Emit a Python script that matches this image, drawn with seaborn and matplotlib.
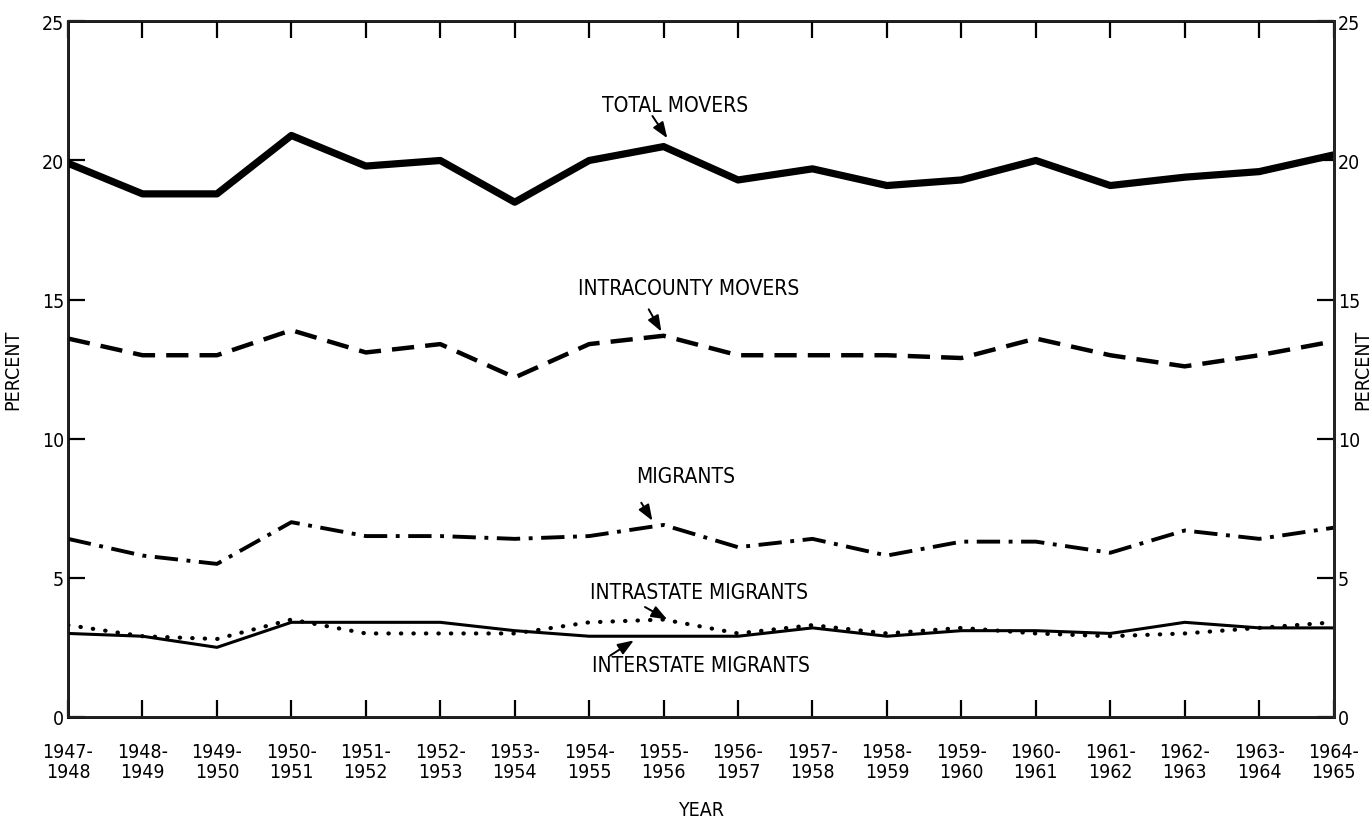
import numpy as np
import pandas as pd
import seaborn as sns
import matplotlib.pyplot as plt

periods = ['1947-\n1948', '1948-\n1949', '1949-\n1950', '1950-\n1951', '1951-\n1952',
           '1952-\n1953', '1953-\n1954', '1954-\n1955', '1955-\n1956', '1956-\n1957',
           '1957-\n1958', '1958-\n1959', '1959-\n1960', '1960-\n1961', '1961-\n1962',
           '1962-\n1963', '1963-\n1964', '1964-\n1965']

total_movers = [19.9, 18.8, 18.8, 20.9, 19.8, 20.0, 18.5, 20.0, 20.5,
                19.3, 19.7, 19.1, 19.3, 20.0, 19.1, 19.4, 19.6, 20.2]
intracounty = [13.6, 13.0, 13.0, 13.9, 13.1, 13.4, 12.2, 13.4, 13.7,
               13.0, 13.0, 13.0, 12.9, 13.6, 13.0, 12.6, 13.0, 13.5]
migrants = [6.4, 5.8, 5.5, 7.0, 6.5, 6.5, 6.4, 6.5, 6.9,
            6.1, 6.4, 5.8, 6.3, 6.3, 5.9, 6.7, 6.4, 6.8]
intrastate = [3.3, 2.9, 2.8, 3.5, 3.0, 3.0, 3.0, 3.4, 3.5,
              3.0, 3.3, 3.0, 3.2, 3.0, 2.9, 3.0, 3.2, 3.4]
interstate = [3.0, 2.9, 2.5, 3.4, 3.4, 3.4, 3.1, 2.9, 2.9,
              2.9, 3.2, 2.9, 3.1, 3.1, 3.0, 3.4, 3.2, 3.2]

sns.set_theme(style="ticks")
plt.rcParams['font.family'] = ['Liberation Sans Narrow', 'DejaVu Sans']
plt.rcParams['font.stretch'] = 'condensed'
plt.rcParams['text.color'] = 'black'
plt.rcParams['axes.labelcolor'] = 'black'
plt.rcParams['xtick.color'] = 'black'
plt.rcParams['ytick.color'] = 'black'

df = pd.DataFrame({
    'idx': np.arange(len(periods)),
    'total': total_movers,
    'intracounty': intracounty,
    'migrants': migrants,
    'intrastate': intrastate,
    'interstate': interstate,
})

fig = plt.figure(figsize=(13.72, 8.29), dpi=100)
ax = fig.add_axes([0.0496, 0.134, 0.9224, 0.839])

sns.lineplot(data=df, x='idx', y='total', ax=ax, color='black', lw=5.2)
sns.lineplot(data=df, x='idx', y='intracounty', ax=ax, color='black', lw=3.2,
             linestyle=(0, (5, 2.5)))
sns.lineplot(data=df, x='idx', y='migrants', ax=ax, color='black', lw=2.8,
             linestyle=(0, (6, 2.2, 1, 2.2)))
sns.lineplot(data=df, x='idx', y='intrastate', ax=ax, color='black', lw=3.0,
             linestyle=(0, (0.1, 2.9)), dash_capstyle='round')
sns.lineplot(data=df, x='idx', y='interstate', ax=ax, color='black', lw=2.2)

ax.set_xlim(0, len(periods) - 1)
ax.set_ylim(0, 25)
ax.set_xticks(df['idx'])
ax.set_xticklabels(periods, fontsize=14, linespacing=1.05)
ax.set_yticks([0, 5, 10, 15, 20, 25])
ax.set_yticklabels(['0', '5', '10', '15', '20', '25'], fontsize=14)
ax.tick_params(axis='both', direction='in', length=12, width=1.6, top=True)
ax.tick_params(axis='x', pad=18)
ax.tick_params(axis='y', pad=3)
for s in ax.spines.values():
    s.set_linewidth(2)
    s.set_color('black')
ax.set_xlabel('YEAR', fontsize=14, labelpad=14)
ax.set_ylabel('PERCENT', fontsize=14)
ax.yaxis.set_label_coords(-0.036, 0.5)

ax2 = ax.twinx()
ax2.set_ylim(0, 25)
ax2.set_yticks([0, 5, 10, 15, 20, 25])
ax2.set_yticklabels(['0', '5', '10', '15', '20', '25'], fontsize=14)
ax2.tick_params(axis='y', direction='in', length=12, width=1.6, pad=3)
ax2.set_ylabel('PERCENT', fontsize=14, rotation=90)
ax2.yaxis.set_label_coords(1.0155, 0.5)
ax2.spines['right'].set_linewidth(2)

arrow = dict(arrowstyle='-|>,head_length=0.8,head_width=0.3', color='black', lw=1.4,
             shrinkA=0, shrinkB=0)
labels = [
    ('TOTAL MOVERS', (8.15, 22.0), (7.85, 21.6), (8.05, 20.8)),
    ('INTRACOUNTY MOVERS', (8.33, 15.4), (7.8, 14.65), (7.97, 13.85)),
    ('MIGRANTS', (8.3, 8.65), (7.7, 7.7), (7.85, 7.05)),
    ('INTRASTATE MIGRANTS', (8.47, 4.5), (7.75, 3.95), (8.05, 3.5)),
    ('INTERSTATE MIGRANTS', (8.5, 1.85), (7.28, 2.2), (7.6, 2.75)),
]
for text, tpos, tail, tip in labels:
    ax.text(tpos[0], tpos[1], text, fontsize=15, ha='center', va='center')
    ax.annotate('', xy=tip, xytext=tail, arrowprops=arrow)

fig.savefig('out.png', dpi=100)
